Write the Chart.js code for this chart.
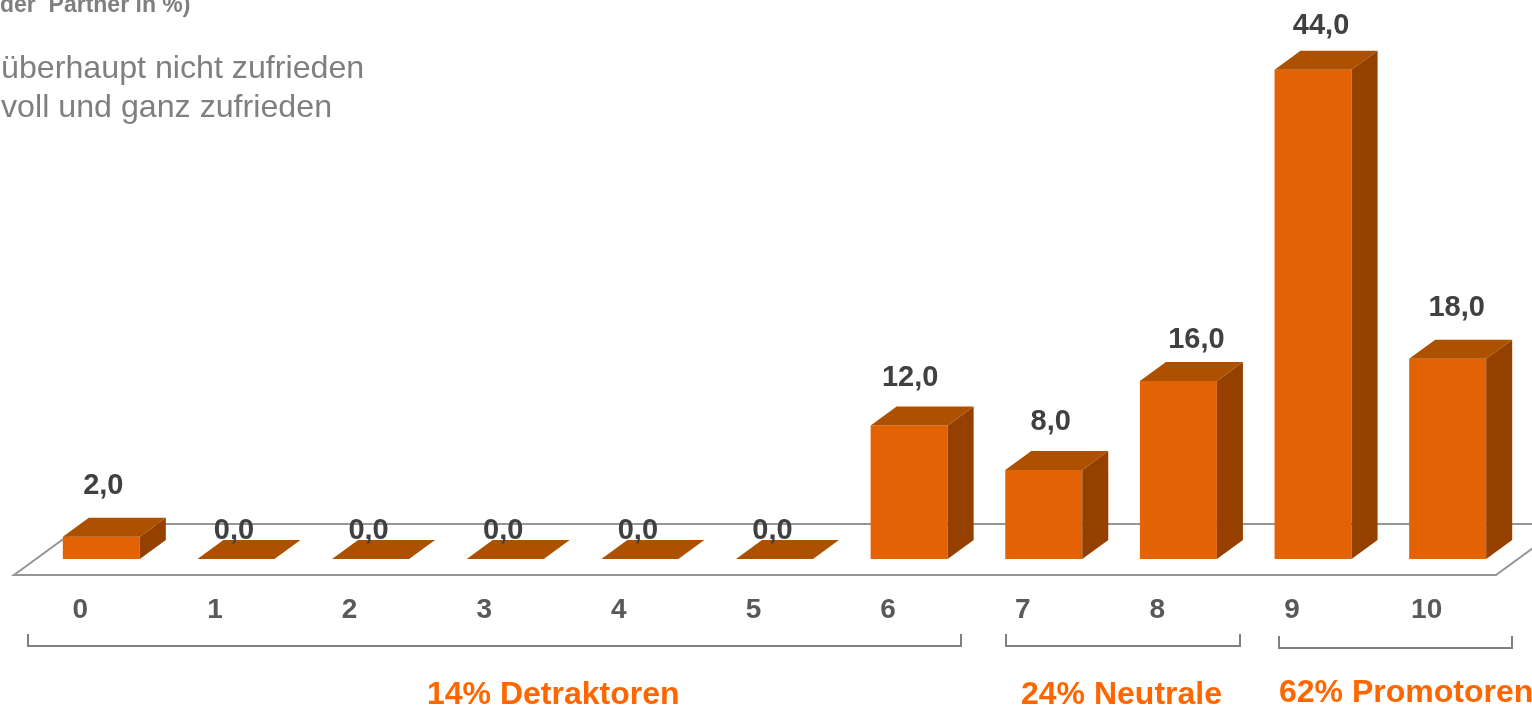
<!DOCTYPE html>
<html lang="de">
<head>
<meta charset="utf-8">
<title>Partner Zufriedenheit</title>
<script src="https://cdn.jsdelivr.net/npm/chart.js@4"></script>
<style>
  html, body { margin:0; padding:0; background:#fff; overflow:hidden; }
  canvas { display:block; filter:blur(0.5px); }
</style>
</head>
<body>
<canvas id="npsChart" width="1532" height="708"></canvas>
<script>
// ── Data ───────────────────────────────────────────
const CATEGORIES = ["0","1","2","3","4","5","6","7","8","9","10"];
const VALUES = [2, 0, 0, 0, 0, 0, 12, 8, 16, 44, 18];
const HEADLINE = "der  Partner in %)";
const SCALE_NOTES = ["überhaupt nicht zufrieden", "voll und ganz zufrieden"];
const GROUP_LABELS = ["14% Detraktoren", "24% Neutrale", "62% Promotoren"];

// value labels sit a bit off the bars in the original
const LABEL_DX = [2, -2, -2, -2, -2, -2, 1, 7, 18, 8, 9];
const LABEL_DY = [51, 28, 28, 28, 28, 28, 48, 48, 41, 44, 51];

const FONT = '"Liberation Sans", Arial, sans-serif';
const DEPTH_X = 26, DEPTH_Y = 19;

function poly(ctx, pts, fill) {
  ctx.beginPath();
  pts.forEach((p, i) => i ? ctx.lineTo(p[0], p[1]) : ctx.moveTo(p[0], p[1]));
  ctx.closePath();
  ctx.fillStyle = fill;
  ctx.fill();
}

// ── Floor behind the bars ──────────────────────────
const floorPlugin = {
  id: "floor",
  beforeDatasetsDraw(chart) {
    const ctx = chart.ctx;
    const base = chart.scales.y.getPixelForValue(0);
    ctx.save();
    ctx.strokeStyle = "#969696";
    ctx.lineWidth = 2;
    ctx.beginPath();
    ctx.moveTo(84, base - 35);
    ctx.lineTo(1532, base - 35);
    ctx.moveTo(84, base - 35);
    ctx.lineTo(14, base + 16);
    ctx.lineTo(1496, base + 16);
    ctx.lineTo(1566, base - 35);
    ctx.stroke();
    ctx.restore();
  }
};

// ── 3D faces + value labels ────────────────────────
const boxPlugin = {
  id: "box",
  afterDatasetsDraw(chart) {
    const ctx = chart.ctx;
    const bars = chart.getDatasetMeta(0).data;
    ctx.save();
    bars.forEach(b => {
      const l = b.x - b.width / 2, r = b.x + b.width / 2;
      poly(ctx, [[r, b.y], [r + DEPTH_X, b.y - DEPTH_Y], [r + DEPTH_X, b.base - DEPTH_Y], [r, b.base]], "#964000");
      poly(ctx, [[l, b.y], [l + DEPTH_X, b.y - DEPTH_Y], [r + DEPTH_X, b.y - DEPTH_Y], [r, b.y]], "#ad5000");
    });
    ctx.fillStyle = "#404040";
    ctx.font = "bold 29px " + FONT;
    ctx.textAlign = "center";
    ctx.textBaseline = "middle";
    bars.forEach((b, i) => {
      const txt = VALUES[i].toFixed(1).replace(".", ",");
      ctx.fillText(txt, b.x + LABEL_DX[i], b.y - LABEL_DY[i]);
    });
    ctx.restore();
  }
};

// ── Header text, brackets, group labels ────────────
const notesPlugin = {
  id: "notes",
  afterDraw(chart) {
    const ctx = chart.ctx;
    ctx.save();
    ctx.textBaseline = "middle";
    ctx.textAlign = "left";
    ctx.fillStyle = "#7f7f7f";
    ctx.font = "bold 23px " + FONT;
    ctx.fillText(HEADLINE, 0, 6);
    ctx.font = "32.2px " + FONT;
    ctx.fillText(SCALE_NOTES[0], 1, 69);
    ctx.fillText(SCALE_NOTES[1], 1, 108);

    ctx.strokeStyle = "#808080";
    ctx.lineWidth = 2;
    [[28, 961, 634, 646], [1006, 1240, 634, 646], [1279, 1512, 636, 648]].forEach(b => {
      ctx.beginPath();
      ctx.moveTo(b[0], b[2]);
      ctx.lineTo(b[0], b[3]);
      ctx.lineTo(b[1], b[3]);
      ctx.lineTo(b[1], b[2]);
      ctx.stroke();
    });

    ctx.fillStyle = "#ff6600";
    ctx.font = "bold 32px " + FONT;
    ctx.fillText(GROUP_LABELS[0], 427, 695);
    ctx.fillText(GROUP_LABELS[1], 1021, 695);
    ctx.fillText(GROUP_LABELS[2], 1279, 693);
    ctx.restore();
  }
};

new Chart(document.getElementById("npsChart"), {
  type: "bar",
  data: {
    labels: CATEGORIES,
    datasets: [{
      data: VALUES,
      backgroundColor: "#e36304",
      borderWidth: 0,
      barPercentage: 0.572,
      categoryPercentage: 1,
    }],
  },
  plugins: [floorPlugin, boxPlugin, notesPlugin],
  options: {
    responsive: false,
    animation: false,
    devicePixelRatio: 1,
    layout: { padding: { left: 34, right: 17, top: 3, bottom: 0 } },
    plugins: { legend: { display: false }, tooltip: { enabled: false } },
    scales: {
      x: {
        afterFit(scale) { scale.height = 149; },
        border: { display: false },
        grid: { display: false, drawTicks: false },
        ticks: {
          color: "#595959",
          padding: 34,
          labelOffset: -21,
          maxRotation: 0,
          font: { family: FONT, size: 28, weight: "bold" },
        },
      },
      y: { display: false, min: 0, max: 50 },
    },
  },
});
</script>
</body>
</html>
